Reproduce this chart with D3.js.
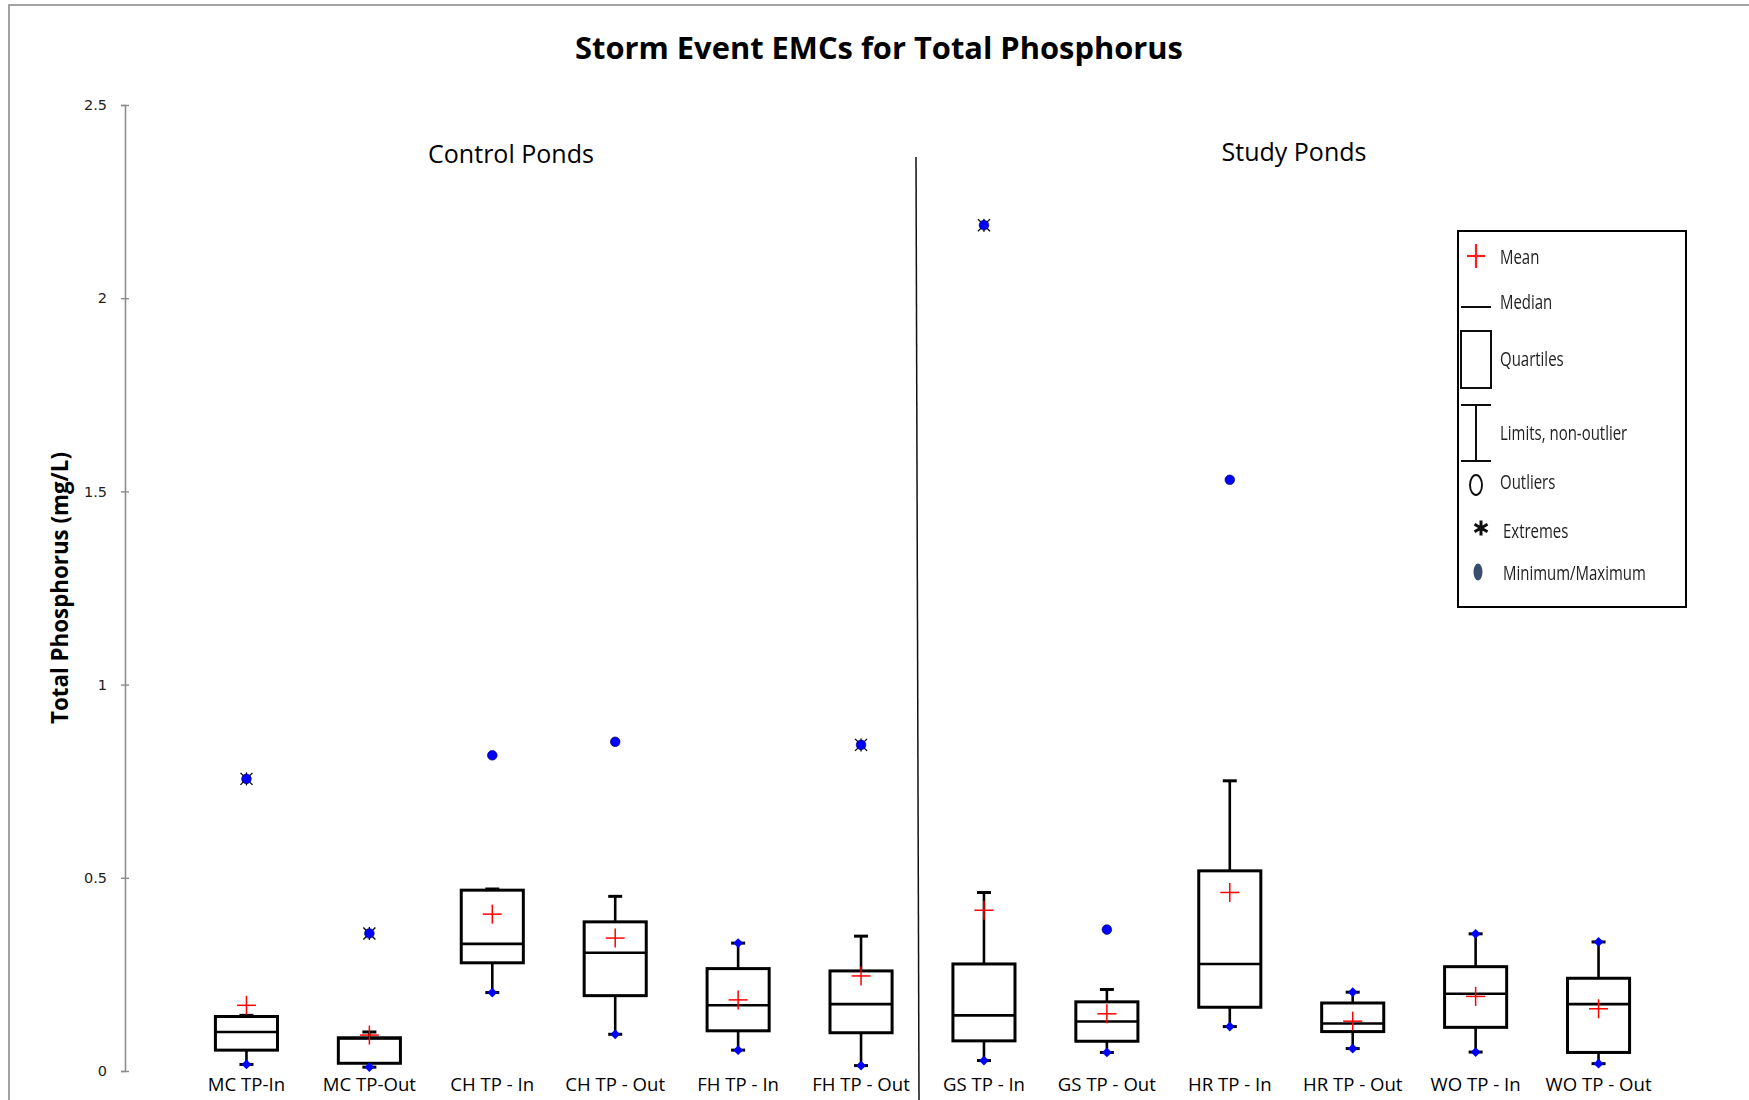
<!DOCTYPE html>
<html>
<head>
<meta charset="utf-8">
<title>Storm Event EMCs for Total Phosphorus</title>
<script src="https://cdn.jsdelivr.net/npm/d3@7"></script>
<style>
  body { margin: 0; background: #fff; }
  svg { display: block; }
</style>
</head>
<body>
<svg id="chart" width="1749" height="1100"></svg>
<script>
// Storm-event mean concentrations of total phosphorus (mg/L), one box per pond inlet/outlet
const categories = ["MC TP-In", "MC TP-Out", "CH TP - In", "CH TP - Out", "FH TP - In", "FH TP - Out",
                    "GS TP - In", "GS TP - Out", "HR TP - In", "HR TP - Out", "WO TP - In", "WO TP - Out"];
const lowerLimit = [0.017, 0.010, 0.203, 0.095, 0.054, 0.014, 0.027, 0.048, 0.115, 0.058, 0.049, 0.019];
const q1         = [0.054, 0.020, 0.280, 0.195, 0.104, 0.099, 0.078, 0.077, 0.165, 0.102, 0.113, 0.048];
const median     = [0.101, 0.084, 0.329, 0.306, 0.170, 0.173, 0.144, 0.128, 0.277, 0.123, 0.200, 0.173];
const q3         = [0.141, 0.086, 0.468, 0.386, 0.265, 0.259, 0.277, 0.179, 0.518, 0.176, 0.270, 0.240];
const upperLimit = [0.144, 0.101, 0.471, 0.452, 0.331, 0.349, 0.462, 0.211, 0.751, 0.204, 0.355, 0.334];
const means      = [0.170, 0.093, 0.406, 0.344, 0.184, 0.246, 0.416, 0.148, 0.462, 0.129, 0.193, 0.161];
const maxValue   = [0.756, 0.356, 0.817, 0.852, 0.331, 0.844, 2.189, 0.366, 1.530, 0.204, 0.355, 0.334];
// how the maximum is classed: beyond the limits as an extreme or outlier, or equal to the upper limit
const maxKind    = ["extreme", "extreme", "outlier", "outlier", "limit", "extreme",
                    "extreme", "outlier", "outlier", "limit", "limit", "limit"];
const yTicks = [0, 0.5, 1, 1.5, 2, 2.5];
const groupLabels = ["Control Ponds", "Study Ponds"];
const legendLabels = ["Mean", "Median", "Quartiles", "Limits, non-outlier", "Outliers", "Extremes", "Minimum/Maximum"];

const rows = categories.map((c, i) => ({
  cat: c, lo: lowerLimit[i], q1: q1[i], med: median[i], q3: q3[i], hi: upperLimit[i],
  mean: means[i], max: maxValue[i], kind: maxKind[i]
}));

const svg = d3.select("#chart");
const FONT = "'Open Sans', 'Noto Sans', sans-serif";
const BLUE = "#0000ff";

function fitFont(sel, target) {
  const w = sel.node().getComputedTextLength();
  const fs = parseFloat(sel.attr("font-size"));
  sel.attr("font-size", (fs * target / w).toFixed(2));
  return sel;
}

// chart frame (only top and left edges fall inside the page)
svg.append("rect")
  .attr("x", 9).attr("y", 5).attr("width", 1800).attr("height", 1200)
  .attr("fill", "none").attr("stroke", "#8c8c8c").attr("stroke-width", 1.6);

const y = d3.scaleLinear().domain([0, 2.5]).range([1071, 105]);
const x = d3.scaleBand().domain(categories).range([185, 1660]);
const cx = c => x(c) + x.bandwidth() / 2;
const boxW = x.step() * 0.505;
const capW = 14;

// title
fitFont(svg.append("text")
  .attr("x", 879).attr("y", 59).attr("text-anchor", "middle")
  .attr("font-family", FONT).attr("font-weight", 700).attr("font-size", 28)
  .attr("fill", "#000").text("Storm Event EMCs for Total Phosphorus"), 608);

// y axis
const yAxis = svg.append("g").attr("transform", "translate(125,0)")
  .call(d3.axisLeft(y).tickValues(yTicks).tickSize(4).tickPadding(14).tickFormat(d3.format("")));
yAxis.select(".domain").attr("stroke", "#8c8c8c").attr("stroke-width", 1.6);
yAxis.selectAll(".tick line").attr("x1", 4).attr("x2", -4).attr("stroke", "#8c8c8c").attr("stroke-width", 1.4);
yAxis.selectAll(".tick text").attr("font-family", "'DejaVu Sans', sans-serif").attr("font-size", 14.5).attr("fill", "#222");

fitFont(svg.append("text")
  .attr("transform", "translate(68,588) rotate(-90)").attr("text-anchor", "middle")
  .attr("font-family", FONT).attr("font-weight", 700).attr("font-size", 20)
  .attr("fill", "#000").text("Total Phosphorus (mg/L)"), 272);

// category labels
const catLabels = svg.append("g").selectAll("text").data(categories).join("text")
  .attr("x", d => cx(d)).attr("y", 1091).attr("text-anchor", "middle")
  .attr("font-family", FONT).attr("font-size", 18).attr("fill", "#000").text(d => d);
const widest = catLabels.filter(d => d === "WO TP - Out");
const w0 = widest.node().getComputedTextLength();
catLabels.attr("font-size", (18 * 106 / w0).toFixed(2));

// group separator and group labels
const split = x(categories[6]);
svg.append("line")
  .attr("x1", split - 6.5).attr("y1", 157).attr("x2", split - 3.5).attr("y2", 1100)
  .attr("stroke", "#111").attr("stroke-width", 1.5);
const gl = svg.append("g").selectAll("text").data(groupLabels).join("text")
  .attr("x", (d, i) => i === 0 ? 511 : 1294).attr("y", (d, i) => i === 0 ? 163 : 161)
  .attr("text-anchor", "middle").attr("font-family", FONT).attr("font-size", 24)
  .attr("fill", "#000").text(d => d);
fitFont(gl.filter((d, i) => i === 0), 166);
fitFont(gl.filter((d, i) => i === 1), 145);

// boxes
const plot = svg.append("g");
const box = plot.selectAll("g.box").data(rows).join("g").attr("class", "box");

// whiskers
box.append("line")
  .attr("x1", d => cx(d.cat)).attr("x2", d => cx(d.cat))
  .attr("y1", d => y(d.hi)).attr("y2", d => y(d.q3))
  .attr("stroke", "#000").attr("stroke-width", 2.6);
box.append("line")
  .attr("x1", d => cx(d.cat)).attr("x2", d => cx(d.cat))
  .attr("y1", d => y(d.q1)).attr("y2", d => y(d.lo))
  .attr("stroke", "#000").attr("stroke-width", 2.6);
// whisker caps
box.append("line")
  .attr("x1", d => cx(d.cat) - capW / 2).attr("x2", d => cx(d.cat) + capW / 2)
  .attr("y1", d => y(d.hi)).attr("y2", d => y(d.hi))
  .attr("stroke", "#000").attr("stroke-width", 3);
box.append("line")
  .attr("x1", d => cx(d.cat) - capW / 2).attr("x2", d => cx(d.cat) + capW / 2)
  .attr("y1", d => y(d.lo)).attr("y2", d => y(d.lo))
  .attr("stroke", "#000").attr("stroke-width", 3);
// quartile box
box.append("rect")
  .attr("x", d => cx(d.cat) - boxW / 2).attr("width", boxW)
  .attr("y", d => y(d.q3)).attr("height", d => y(d.q1) - y(d.q3))
  .attr("fill", "none").attr("stroke", "#000").attr("stroke-width", 3);
// median
box.append("line")
  .attr("x1", d => cx(d.cat) - boxW / 2).attr("x2", d => cx(d.cat) + boxW / 2)
  .attr("y1", d => y(d.med)).attr("y2", d => y(d.med))
  .attr("stroke", "#000").attr("stroke-width", 2.6);

// minimum markers (diamonds on the lower limit)
const diamond = d3.symbol(d3.symbolSquare, 48);
box.append("path")
  .attr("d", diamond)
  .attr("transform", d => `translate(${cx(d.cat)},${y(d.lo)}) rotate(45)`)
  .attr("fill", BLUE);
// maximum markers when the maximum sits on the upper limit
box.filter(d => d.kind === "limit").append("path")
  .attr("d", diamond)
  .attr("transform", d => `translate(${cx(d.cat)},${y(d.max)}) rotate(45)`)
  .attr("fill", BLUE);

// extremes: asterisk beneath the maximum dot
const ext = box.filter(d => d.kind === "extreme").append("g")
  .attr("transform", d => `translate(${cx(d.cat)},${y(d.max)})`);
[45, 135, 90].forEach(a => {
  const r = a === 90 ? 6.5 : 8.5;
  const rad = a * Math.PI / 180;
  ext.append("line")
    .attr("x1", -r * Math.cos(rad)).attr("y1", -r * Math.sin(rad))
    .attr("x2", r * Math.cos(rad)).attr("y2", r * Math.sin(rad))
    .attr("stroke", "#000").attr("stroke-width", 1.3);
});
// maximum dots beyond the limits
box.filter(d => d.kind !== "limit").append("circle")
  .attr("cx", d => cx(d.cat)).attr("cy", d => y(d.max)).attr("r", 4.8)
  .attr("fill", BLUE).attr("stroke", "#00006a").attr("stroke-width", 0.7);

// means
const meanG = box.append("g").attr("transform", d => `translate(${cx(d.cat)},${y(d.mean)})`);
meanG.append("line").attr("x1", -9.5).attr("x2", 9.5).attr("y1", 0).attr("y2", 0)
  .attr("stroke", "#ff0000").attr("stroke-width", 1.5);
meanG.append("line").attr("x1", 0).attr("x2", 0).attr("y1", -9.5).attr("y2", 9.5)
  .attr("stroke", "#ff0000").attr("stroke-width", 1.5);

// legend
const defs = svg.append("defs");
defs.append("filter").attr("id", "soft").attr("x", "-5%").attr("y", "-5%").attr("width", "110%").attr("height", "110%")
  .append("feGaussianBlur").attr("stdDeviation", 0.55);

const legend = svg.append("g");
legend.append("rect").attr("x", 1458).attr("y", 231).attr("width", 228).attr("height", 376)
  .attr("fill", "#fff").attr("stroke", "#000").attr("stroke-width", 2);
const lg = legend.append("g").attr("filter", "url(#soft)");
const itemY = [256, 301, 358, 432, 481, 530, 572];
const symX = 1476;

// mean
lg.append("line").attr("x1", symX - 9).attr("x2", symX + 9).attr("y1", itemY[0]).attr("y2", itemY[0]).attr("stroke", "#ff1a1a").attr("stroke-width", 2.2);
lg.append("line").attr("x1", symX).attr("x2", symX).attr("y1", itemY[0] - 12).attr("y2", itemY[0] + 12).attr("stroke", "#ff1a1a").attr("stroke-width", 2.2);
// median
lg.append("line").attr("x1", symX - 15).attr("x2", symX + 15).attr("y1", itemY[1] + 6).attr("y2", itemY[1] + 6).attr("stroke", "#111").attr("stroke-width", 2);
// quartiles
lg.append("rect").attr("x", symX - 15).attr("y", itemY[2] - 27).attr("width", 30).attr("height", 57)
  .attr("fill", "none").attr("stroke", "#111").attr("stroke-width", 2);
// limits
lg.append("line").attr("x1", symX).attr("x2", symX).attr("y1", itemY[3] - 27).attr("y2", itemY[3] + 29).attr("stroke", "#111").attr("stroke-width", 2);
lg.append("line").attr("x1", symX - 15).attr("x2", symX + 15).attr("y1", itemY[3] - 27).attr("y2", itemY[3] - 27).attr("stroke", "#111").attr("stroke-width", 2);
lg.append("line").attr("x1", symX - 15).attr("x2", symX + 15).attr("y1", itemY[3] + 29).attr("y2", itemY[3] + 29).attr("stroke", "#111").attr("stroke-width", 2);
// outliers
lg.append("ellipse").attr("cx", symX).attr("cy", itemY[4] + 4).attr("rx", 6).attr("ry", 10)
  .attr("fill", "none").attr("stroke", "#111").attr("stroke-width", 1.9);
// extremes
lg.append("path").attr("d", d3.symbol(d3.symbolAsterisk, 160))
  .attr("transform", `translate(${symX + 5},${itemY[5] - 2})`)
  .attr("stroke", "#111").attr("stroke-width", 3).attr("fill", "none");
// minimum / maximum
lg.append("ellipse").attr("cx", symX + 2).attr("cy", itemY[6]).attr("rx", 4.5).attr("ry", 8.5)
  .attr("fill", "#3a4d6d");

// legend labels: tall, condensed lettering
const legendFs = 19.5;
const lt = lg.selectAll("text.item").data(legendLabels).join("text").attr("class", "item")
  .attr("x", 0).attr("y", 0)
  .attr("dominant-baseline", "central")
  .attr("font-family", FONT).attr("font-size", legendFs)
  .attr("fill", "#222").text(d => d);
const lw = lt.filter(d => d === "Minimum/Maximum").node().getComputedTextLength();
const squeeze = 143 / lw;
lt.attr("transform", (d, i) => `translate(${i >= 5 ? 1503 : 1500},${itemY[i]}) scale(${squeeze.toFixed(3)},1)`);
</script>
</body>
</html>
